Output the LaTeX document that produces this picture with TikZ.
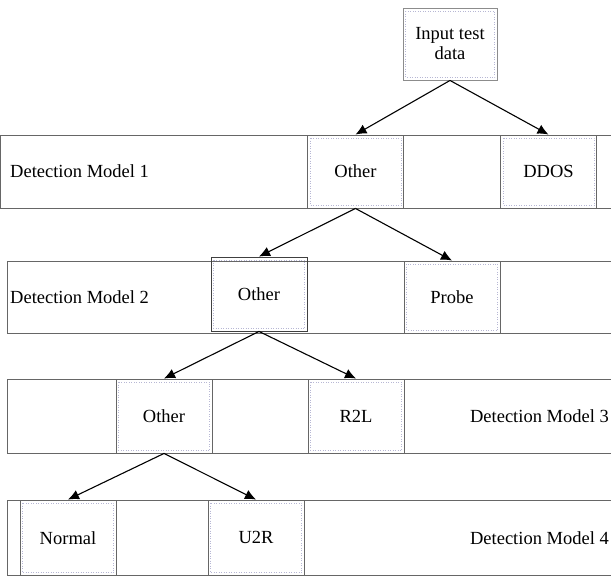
\documentclass[tikz,border=0pt]{standalone}
\usepackage{fontspec}
\setmainfont{Liberation Serif}
\newfontfamily\tnr{Liberation Serif}
\usetikzlibrary{arrows.meta}
\begin{document}
\begin{tikzpicture}[x=1pt,y=-1pt,
  bandline/.style={draw=black!60, line width=0.9pt},
  catbox/.style={draw=black!60, line width=0.9pt, minimum width=96pt, minimum height=73pt,
    inner sep=0pt, font=\tnr\fontsize{18.5}{20}\selectfont,
    path picture={\draw[dotted, blue!25!gray!45, line width=0.5pt]
      ([shift={(2.5pt,-3pt)}]path picture bounding box.north west) rectangle
      ([shift={(-2.5pt,3pt)}]path picture bounding box.south east);}},
  lbl/.style={font=\tnr\fontsize{18.5}{20}\selectfont, inner sep=0pt},
  arr/.style={draw=black, line width=1.1pt, -{Latex[length=11pt,width=10pt]}}
]
\useasboundingbox (0,0) rectangle (611,576);
\fill[white] (0,0) rectangle (611,576);

% input
\node[catbox, draw=black!45, minimum width=94pt, minimum height=72pt, align=center] (in) at (450,44) {Input test\\data};

% band 1
\draw[bandline] (0.5,135) rectangle (620,208);
\node[lbl, anchor=west] (m1) at (10,171) {Detection Model 1};
\node[catbox] (o1) at (355.5,171.5) {Other};
\node[catbox] (ddos) at (548.5,171.5) {DDOS};

% band 2
\draw[bandline] (7,261) rectangle (620,333);
\node[lbl, anchor=west] (m2) at (10,297) {Detection Model 2};
\node[catbox, draw=black!75, minimum height=74pt] (o2) at (259,294) {Other};
\node[catbox, minimum height=72pt] (probe) at (452,297) {Probe};

% band 3
\draw[bandline] (7,379) rectangle (620,453);
\node[lbl, anchor=east] (m3) at (609,416) {Detection Model 3};
\node[catbox, minimum height=74pt] (o3) at (164,416) {Other};
\node[catbox, minimum height=74pt] (r2l) at (356,416) {R2L};

% band 4
\draw[bandline] (7,500) rectangle (620,575.5);
\node[lbl, anchor=east] (m4) at (609,538) {Detection Model 4};
\node[catbox, minimum height=75.5pt] (normal) at (68,537.75) {Normal};
\node[catbox, minimum height=75.5pt] (u2r) at (256,537.75) {U2R};

% arrows
\draw[arr] (in.south) -- (o1.north);
\draw[arr] (in.south) -- (ddos.north);
\draw[arr] (o1.south) -- (o2.north);
\draw[arr] (o1.south) -- (probe.north);
\draw[arr] (o2.south) -- (o3.north);
\draw[arr] (o2.south) -- (r2l.north);
\draw[arr] (o3.south) -- (normal.north);
\draw[arr] (o3.south) -- (u2r.north);
\end{tikzpicture}
\end{document}
